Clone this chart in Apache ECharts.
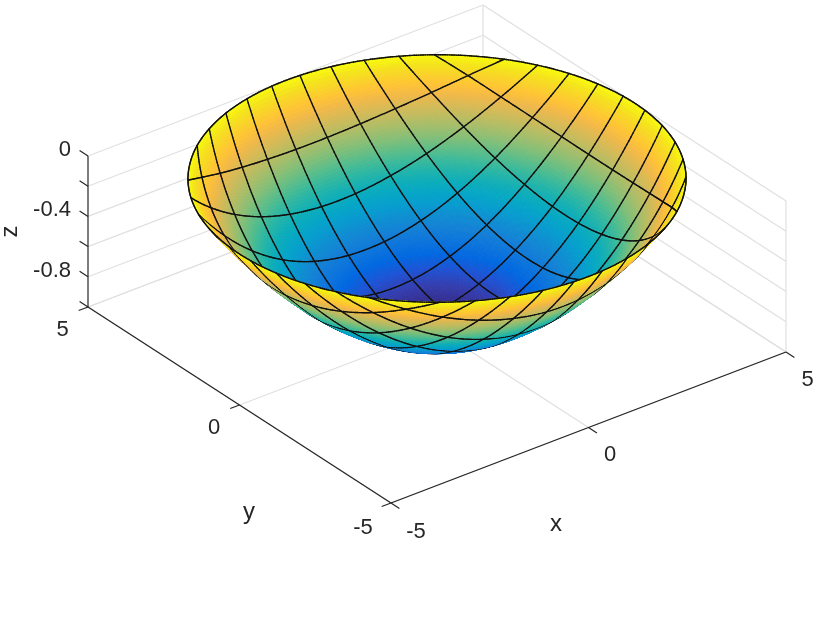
<!DOCTYPE html>
<html>
<head>
<meta charset="utf-8">
<style>html,body{margin:0;padding:0;background:#fff}</style>
<script src="https://cdn.jsdelivr.net/npm/echarts@6/dist/echarts.min.js"></script>
</head>
<body>
<div id="main" style="width:830px;height:626px;"></div>
<script>
const surfX = [
  [-3.536,-4.003,-4.388,-4.685,-4.886,-4.987,-4.987,-4.886,-4.685,-4.388,-4.003,-3.536],
  [-3.000,-3.367,-3.669,-3.903,-4.060,-4.140,-4.140,-4.060,-3.903,-3.669,-3.367,-3.000],
  [-2.400,-2.674,-2.899,-3.073,-3.190,-3.250,-3.250,-3.190,-3.073,-2.899,-2.674,-2.400],
  [-1.750,-1.937,-2.090,-2.209,-2.289,-2.330,-2.330,-2.289,-2.209,-2.090,-1.937,-1.750],
  [-1.063,-1.178,-1.273,-1.346,-1.395,-1.420,-1.420,-1.395,-1.346,-1.273,-1.178,-1.063],
  [-0.357,-0.397,-0.429,-0.454,-0.471,-0.480,-0.480,-0.471,-0.454,-0.429,-0.397,-0.357],
  [0.357,0.397,0.429,0.454,0.471,0.480,0.480,0.471,0.454,0.429,0.397,0.357],
  [1.063,1.178,1.273,1.346,1.395,1.420,1.420,1.395,1.346,1.273,1.178,1.063],
  [1.750,1.937,2.090,2.209,2.289,2.330,2.330,2.289,2.209,2.090,1.937,1.750],
  [2.400,2.674,2.899,3.073,3.190,3.250,3.250,3.190,3.073,2.899,2.674,2.400],
  [3.000,3.367,3.669,3.903,4.060,4.140,4.140,4.060,3.903,3.669,3.367,3.000],
  [3.536,4.003,4.388,4.685,4.886,4.987,4.987,4.886,4.685,4.388,4.003,3.536]
];
const surfY = [
  [-3.536,-3.000,-2.400,-1.750,-1.063,-0.357,0.357,1.063,1.750,2.400,3.000,3.536],
  [-4.003,-3.367,-2.674,-1.937,-1.178,-0.397,0.397,1.178,1.937,2.674,3.367,4.003],
  [-4.388,-3.669,-2.899,-2.090,-1.273,-0.429,0.429,1.273,2.090,2.899,3.669,4.388],
  [-4.685,-3.903,-3.073,-2.209,-1.346,-0.454,0.454,1.346,2.209,3.073,3.903,4.685],
  [-4.886,-4.060,-3.190,-2.289,-1.395,-0.471,0.471,1.395,2.289,3.190,4.060,4.886],
  [-4.987,-4.140,-3.250,-2.330,-1.420,-0.480,0.480,1.420,2.330,3.250,4.140,4.987],
  [-4.987,-4.140,-3.250,-2.330,-1.420,-0.480,0.480,1.420,2.330,3.250,4.140,4.987],
  [-4.886,-4.060,-3.190,-2.289,-1.395,-0.471,0.471,1.395,2.289,3.190,4.060,4.886],
  [-4.685,-3.903,-3.073,-2.209,-1.346,-0.454,0.454,1.346,2.209,3.073,3.903,4.685],
  [-4.388,-3.669,-2.899,-2.090,-1.273,-0.429,0.429,1.273,2.090,2.899,3.669,4.388],
  [-4.003,-3.367,-2.674,-1.937,-1.178,-0.397,0.397,1.178,1.937,2.674,3.367,4.003],
  [-3.536,-3.000,-2.400,-1.750,-1.063,-0.357,0.357,1.063,1.750,2.400,3.000,3.536]
];
const surfZ = [
  [0,0,0,0,0,0,0,0,0,0,0,0],
  [0,-0.092,-0.174,-0.238,-0.282,-0.305,-0.305,-0.282,-0.238,-0.174,-0.092,0],
  [0,-0.174,-0.324,-0.443,-0.523,-0.565,-0.565,-0.523,-0.443,-0.324,-0.174,0],
  [0,-0.238,-0.443,-0.604,-0.711,-0.766,-0.766,-0.711,-0.604,-0.443,-0.238,0],
  [0,-0.282,-0.523,-0.711,-0.836,-0.901,-0.901,-0.836,-0.711,-0.523,-0.282,0],
  [0,-0.305,-0.565,-0.766,-0.901,-0.972,-0.972,-0.901,-0.766,-0.565,-0.305,0],
  [0,-0.305,-0.565,-0.766,-0.901,-0.972,-0.972,-0.901,-0.766,-0.565,-0.305,0],
  [0,-0.282,-0.523,-0.711,-0.836,-0.901,-0.901,-0.836,-0.711,-0.523,-0.282,0],
  [0,-0.238,-0.443,-0.604,-0.711,-0.766,-0.766,-0.711,-0.604,-0.443,-0.238,0],
  [0,-0.174,-0.324,-0.443,-0.523,-0.565,-0.565,-0.523,-0.443,-0.324,-0.174,0],
  [0,-0.092,-0.174,-0.238,-0.282,-0.305,-0.305,-0.282,-0.238,-0.174,-0.092,0],
  [0,0,0,0,0,0,0,0,0,0,0,0]
];

const xTicks = [-5, 0, 5];
const yTicks = [-5, 0, 5];
const zTicks = [-1, -0.8, -0.6, -0.4, -0.2, 0];
const xTickLabels = ['-5', '0', '5'];
const yTickLabels = ['-5', '0', '5'];
const zLabelTicks = [-0.8, -0.4, 0];
const zTickLabels = ['-0.8', '-0.4', '0'];

// parula, evenly spaced
const parula = ['#352A87','#353DAD','#2053D4','#0268E1','#0D75DC','#1481D6','#108ED2','#079DCF','#06A7C6','#0FAEB9','#25B5A9',
  '#42BB98','#65BE86','#87BF77','#A5BE6B','#C0BC60','#D9BA56','#F1B94A','#FFC337','#FAD32A','#F5E41D','#F9FB0E'];

const axisColor = '#262626';
const gridColor = '#e0e0e0';
const SUB = 16; // drawn pieces per mesh cell, the mesh is smoothed like smooth:true on a line

// view(-37.5, 30): screen step per data unit, worked out from the box corners
function project (p) {
  return [
    437 + 39.5 * p[0] - 30.3 * p[1],
    329.5 - 15.1 * p[0] - 19.6 * p[1] - 151 * (p[2] + 1)
  ];
}
function depth (p) {
  return 49.8 * (-0.527 * p[0] - 0.687 * p[1]) + 87.2 * (p[2] + 1);
}

const colorLut = [];
for (let i = 0; i < 256; i++) colorLut.push(echarts.color.lerp(i / 255, parula));
const zMin = Math.min.apply(null, surfZ.map(function (r) { return Math.min.apply(null, r); }));
function colorOf (z) {
  const t = (z - zMin) / (0 - zMin);
  return colorLut[Math.max(0, Math.min(255, Math.round(t * 255)))];
}

// catmull-rom through a row of values, with one extra point each end
function smoothRow (row) {
  const n = row.length;
  const r = [3 * row[0] - 3 * row[1] + row[2]].concat(row, [3 * row[n - 1] - 3 * row[n - 2] + row[n - 3]]);
  const out = [];
  for (let k = 1; k < r.length - 2; k++) {
    for (let m = 0; m < SUB; m++) {
      const t = m / SUB;
      out.push(0.5 * (2 * r[k] + (r[k + 1] - r[k - 1]) * t +
        (2 * r[k - 1] - 5 * r[k] + 4 * r[k + 1] - r[k + 2]) * t * t +
        (3 * r[k] - r[k - 1] - 3 * r[k + 1] + r[k + 2]) * t * t * t));
    }
  }
  out.push(row[n - 1]);
  return out;
}
function smoothMatrix (m) {
  const rows = m.map(smoothRow);
  return rows[0].map(function (_, j) { return smoothRow(rows.map(function (r) { return r[j]; })); });
}
// fine[c][r], c along columns of the mesh and r along its rows
const fineX = smoothMatrix(surfX);
const fineY = smoothMatrix(surfY);
const fineZ = smoothMatrix(surfZ);
function fine (c, r) { return [fineX[c][r], fineY[c][r], fineZ[c][r]]; }

// pieces of the surface, drawn far to near
const pieces = [];
const nFine = fineX.length;
for (let c = 0; c < nFine - 1; c++) {
  for (let r = 0; r < nFine - 1; r++) {
    const a = fine(c, r), b = fine(c + 1, r), d = fine(c + 1, r + 1), e = fine(c, r + 1);
    const mid = [0, 1, 2].map(function (k) { return (a[k] + b[k] + d[k] + e[k]) / 4; });
    pieces.push({ poly: [a, b, d, e], color: colorOf(mid[2]), depth: depth(mid) });
  }
}
function addEdge (a, b) {
  const mid = [0, 1, 2].map(function (k) { return (a[k] + b[k]) / 2; });
  pieces.push({ line: [a, b], depth: depth(mid) + 6 });
}
for (let c = 0; c < nFine; c++) {
  for (let r = 0; r < nFine; r++) {
    if (r % SUB === 0 && c < nFine - 1) addEdge(fine(c, r), fine(c + 1, r));
    if (c % SUB === 0 && r < nFine - 1) addEdge(fine(c, r), fine(c, r + 1));
  }
}
pieces.sort(function (m, n) { return m.depth - n.depth; });

// box, grid and ticks, as 3d segments
const frame = [];
function seg (p0, p1, color) { frame.push({ p0: p0, p1: p1, color: color }); }
zTicks.forEach(function (z) {
  seg([-5, 5, z], [5, 5, z], gridColor);
  seg([5, 5, z], [5, -5, z], gridColor);
});
xTicks.forEach(function (x) {
  seg([x, -5, -1], [x, 5, -1], gridColor);
  if (x > -5) seg([x, 5, -1], [x, 5, 0], gridColor);
});
yTicks.forEach(function (y) {
  seg([-5, y, -1], [5, y, -1], gridColor);
  if (y < 5) seg([5, y, -1], [5, y, 0], gridColor);
});
seg([-5, -5, -1], [5, -5, -1], axisColor);
seg([-5, -5, -1], [-5, 5, -1], axisColor);
seg([-5, 5, -1], [-5, 5, 0], axisColor);
xTicks.forEach(function (x) { seg([x, -5, -1], [x, -5.277, -1], axisColor); });
yTicks.forEach(function (y) { seg([-5, y, -1], [-5.236, y, -1], axisColor); });
zTicks.forEach(function (z) { seg([-5, 5, z], [-5, 5.277, z], axisColor); });

// text
const texts = [];
function addText (str, p, dx, dy, size, align, rot) {
  texts.push({ str: str, p: p, dx: dx, dy: dy, size: size, align: align, rot: rot || 0 });
}
xTicks.forEach(function (x, k) { addText(xTickLabels[k], [x, -5, -1], x < 0 ? 25 : 21.5, x < 0 ? 28.5 : 27.5, 22, 'center'); });
yTicks.forEach(function (y, k) { addText(yTickLabels[k], [-5, y, -1], y < 0 ? -28 : -25.5, y < 0 ? 24.5 : 23, 22, 'center'); });
zLabelTicks.forEach(function (z, k) { addText(zTickLabels[k], [-5, 5, z], -17, -6, 22, 'right'); });
addText('x', [0, -5, -1], -32.5, 97, 24, 'center');
addText('y', [-5, 0, -1], 9.5, 107, 24, 'center');
addText('z', [-5, 5, -0.5], -78, 0, 24, 'center', Math.PI / 2);

function toPlotData (list, getP) {
  return list.map(function (item, k) {
    const c = project(getP(item));
    return [c[0], c[1], k];
  });
}

const chart = echarts.init(document.getElementById('main'));
const option = {
  animation: false,
  backgroundColor: '#fff',
  grid: { left: 0, right: 0, top: 0, bottom: 0 },
  xAxis: { type: 'value', min: 0, max: 830, show: false },
  yAxis: { type: 'value', min: 0, max: 626, inverse: true, show: false },
  series: [
    {
      type: 'custom',
      silent: true,
      clip: false,
      z: 1,
      data: toPlotData(frame, function (f) { return f.p0; }),
      renderItem: function (params, api) {
        const f = frame[api.value(2)];
        const a = api.coord(project(f.p0));
        const b = api.coord(project(f.p1));
        return {
          type: 'line',
          shape: { x1: a[0], y1: a[1], x2: b[0], y2: b[1] },
          style: { stroke: f.color, lineWidth: 1.2, fill: null }
        };
      }
    },
    {
      type: 'custom',
      silent: true,
      clip: false,
      progressive: 0,
      z: 2,
      data: toPlotData(pieces, function (m) { return m.poly ? m.poly[0] : m.line[0]; }),
      renderItem: function (params, api) {
        const m = pieces[api.value(2)];
        if (m.poly) {
          return {
            type: 'polygon',
            shape: { points: m.poly.map(function (v) { return api.coord(project(v)); }) },
            style: { fill: m.color, stroke: m.color, lineWidth: 1 }
          };
        }
        const a = api.coord(project(m.line[0]));
        const b = api.coord(project(m.line[1]));
        return {
          type: 'line',
          shape: { x1: a[0], y1: a[1], x2: b[0], y2: b[1] },
          style: { stroke: '#111', lineWidth: 1.4, lineCap: 'round', fill: null }
        };
      }
    },
    {
      type: 'custom',
      silent: true,
      clip: false,
      z: 3,
      data: toPlotData(texts, function (t) { return t.p; }),
      renderItem: function (params, api) {
        const t = texts[api.value(2)];
        const c = api.coord(project(t.p));
        return {
          type: 'text',
          x: c[0] + t.dx,
          y: c[1] + t.dy,
          rotation: t.rot,
          style: {
            text: t.str,
            fill: axisColor,
            font: t.size + 'px "Liberation Sans", Arial, sans-serif',
            textAlign: t.align,
            textVerticalAlign: 'middle'
          }
        };
      }
    }
  ]
};
chart.setOption(option);
</script>
</body>
</html>
